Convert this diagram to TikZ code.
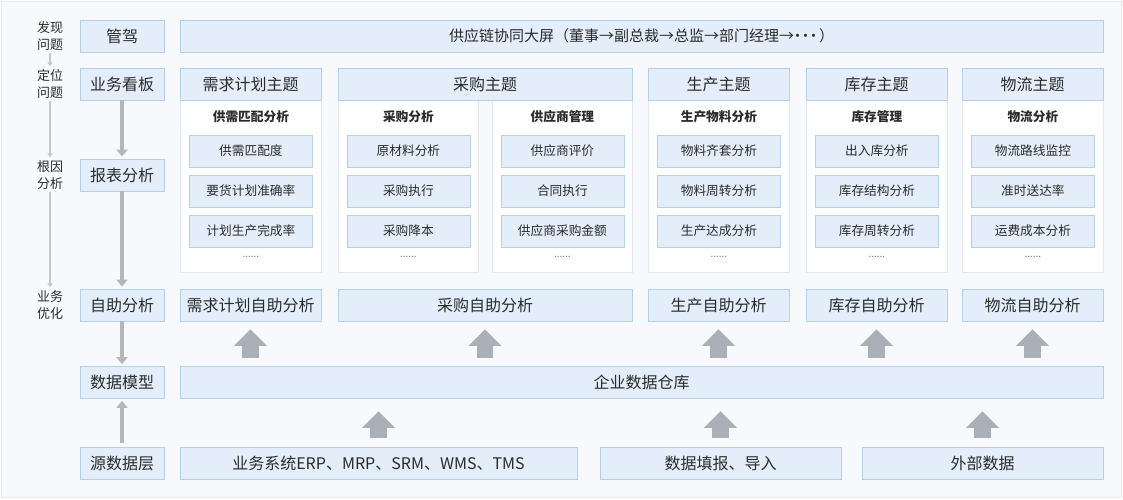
\documentclass[tikz,border=0pt]{standalone}
\usepackage{fontspec}
\setmainfont{Noto Sans CJK SC}
\usetikzlibrary{arrows.meta}
\definecolor{bg}{HTML}{F8F9FC}
\definecolor{bgline}{HTML}{E6E9EE}
\definecolor{bfill}{HTML}{E3EEFA}
\definecolor{bline}{HTML}{B5CFEC}
\definecolor{pline}{HTML}{E4E8EE}
\definecolor{txt}{HTML}{2B2B2B}
\definecolor{agray}{HTML}{A9B0B8}
\definecolor{tgray}{HTML}{C4C8CC}
\definecolor{mgray}{HTML}{B3B7BC}
\definecolor{dotgray}{HTML}{7A7A7A}
\tikzset{
  bbox/.style={draw=bline, fill=bfill, line width=0.8pt, inner sep=0pt, text=txt,
    minimum height=32pt, font=\fontsize{16}{18}\selectfont},
  itembox/.style={bbox, minimum width=123pt, font=\fontsize{12.7}{14}\selectfont},
  panelbox/.style={draw=pline, fill=white, line width=0.8pt, inner sep=0pt},
  subtitle/.style={text=txt, inner sep=0pt, font=\fontsize{12.7}{14}\selectfont\bfseries},
  dotstext/.style={text=dotgray, inner sep=0pt, font=\fontsize{10}{11}\selectfont},
  leftlab/.style={text=txt, align=center, inner sep=0pt, font=\fontsize{13}{17}\selectfont},
  thinarrow/.style={draw=tgray, line width=1.5pt, -{Triangle[width=5pt,length=4pt]},
    shorten <=2pt, shorten >=3pt},
  midarrow/.style={draw=mgray, line width=4.5pt, -{Triangle[width=11pt,length=7pt]}},
  bigup/.style={draw=agray, line width=16.5pt, -{Triangle[width=32pt,length=16.5pt]}},
}
\newcommand\mypanel[6]{%
  \node[panelbox, minimum width=#3pt, minimum height=172pt, anchor=north west] (#1) at (#2,100) {};
  \node[subtitle] (#1s) at ([yshift=-17pt]#1.north) {#4};
  \node[itembox] (#1a) at ([yshift=-51pt]#1.north) {#5};
  \node[itembox] (#1b) at ([yshift=-91pt]#1.north) {#6};
}
\newcommand\mypanelend[3]{%
  \node[itembox] (#1c) at ([yshift=-131pt]#1.north) {#2};
  \node[dotstext] (#1d) at ([yshift=-#3pt]#1.north) {......};
}
\begin{document}
\begin{tikzpicture}[x=1pt,y=-1pt]
\useasboundingbox (0,0) rectangle (1123,500);
\draw[fill=bg, draw=bgline, line width=0.8pt] (1,1) rectangle (1121,497);

% left labels
\node[leftlab] (l1) at (50,36) {发现\\问题};
\node[leftlab] (l2) at (50,84) {定位\\问题};
\node[leftlab] (l3) at (50,175) {根因\\分析};
\node[leftlab] (l4) at (50,305) {业务\\优化};
\draw[thinarrow] (l1.south) -- (l2.north);
\draw[thinarrow] (l2.south) -- (l3.north);
\draw[thinarrow] (l3.south) -- (l4.north);

% column 2
\node[bbox, minimum width=84pt] (c1) at (122,36) {管驾};
\node[bbox, minimum width=84pt] (c2) at (122,84) {业务看板};
\node[bbox, minimum width=84pt] (c3) at (122,175) {报表分析};
\node[bbox, minimum width=84pt] (c4) at (122,305) {自助分析};
\node[bbox, minimum width=84pt] (c5) at (122,382.5) {数据模型};
\node[bbox, minimum width=84pt] (c6) at (122,463.5) {源数据层};
\draw[midarrow, shorten >=2pt] (c2.south) -- (c3.north);
\draw[midarrow, shorten >=2pt] (c3.south) -- (c4.north);
\draw[midarrow, shorten >=2pt] (c4.south) -- (c5.north);
\draw[midarrow, shorten <=4pt, shorten >=2pt] (c6.north) -- (c5.south);

% top bar
\node[bbox, minimum width=923pt, font=\fontsize{15}{17}\selectfont] (top) at (641.5,36)
  {供应链协同大屏（董事→副总裁→总监→部门经理→\kern-4pt·\kern-7pt·\kern-7pt·\kern-2pt）};

% panels
\mypanel{p1}{180}{141}{供需匹配分析}{供需匹配度}{要货计划准确率}
\mypanelend{p1}{计划生产完成率}{157}
\mypanel{p2}{338}{140}{采购分析}{原材料分析}{采购执行}
\mypanelend{p2}{采购降本}{157}
\mypanel{p3}{492}{140}{供应商管理}{供应商评价}{合同执行}
\mypanelend{p3}{供应商采购金额}{157}
\mypanel{p4}{648}{141}{生产物料分析}{物料齐套分析}{物料周转分析}
\mypanelend{p4}{生产达成分析}{157}
\mypanel{p5}{806}{141}{库存管理}{出入库分析}{库存结构分析}
\mypanelend{p5}{库存周转分析}{157}
\mypanel{p6}{962}{141}{物流分析}{物流路线监控}{准时送达率}
\mypanelend{p6}{运费成本分析}{157}

% headers
\node[bbox, minimum width=141pt] (h1) at (250.5,84) {需求计划主题};
\node[bbox, minimum width=294pt] (h2) at (485,84) {采购主题};
\node[bbox, minimum width=141pt] (h3) at (718.5,84) {生产主题};
\node[bbox, minimum width=141pt] (h4) at (876.5,84) {库存主题};
\node[bbox, minimum width=141pt] (h5) at (1032.5,84) {物流主题};

% self-service row
\node[bbox, minimum width=141pt] (s1) at (250.5,305) {需求计划自助分析};
\node[bbox, minimum width=294pt] (s2) at (485,305) {采购自助分析};
\node[bbox, minimum width=141pt] (s3) at (718.5,305) {生产自助分析};
\node[bbox, minimum width=141pt] (s4) at (876.5,305) {库存自助分析};
\node[bbox, minimum width=141pt] (s5) at (1032.5,305) {物流自助分析};

% warehouse
\node[bbox, minimum width=923pt] (dw) at (641.5,382.5) {企业数据仓库};

% sources
\node[bbox, minimum width=397pt] (src1) at (378.5,463.5) {业务系统ERP、MRP、SRM、WMS、TMS};
\node[bbox, minimum width=241pt] (src2) at (720.5,463.5) {数据填报、导入};
\node[bbox, minimum width=241pt] (src3) at (982.5,463.5) {外部数据};

% big arrows warehouse -> self-service
\foreach \s in {s1,s2,s3,s4,s5}
  \draw[bigup, shorten <=8.5pt, shorten >=8pt] (dw.north -| \s.south) -- (\s.south);
% big arrows sources -> warehouse
\foreach \s in {src1,src2,src3}
  \draw[bigup, shorten <=9pt, shorten >=12.5pt] (\s.north) -- (\s.north |- dw.south);
\end{tikzpicture}
\end{document}
